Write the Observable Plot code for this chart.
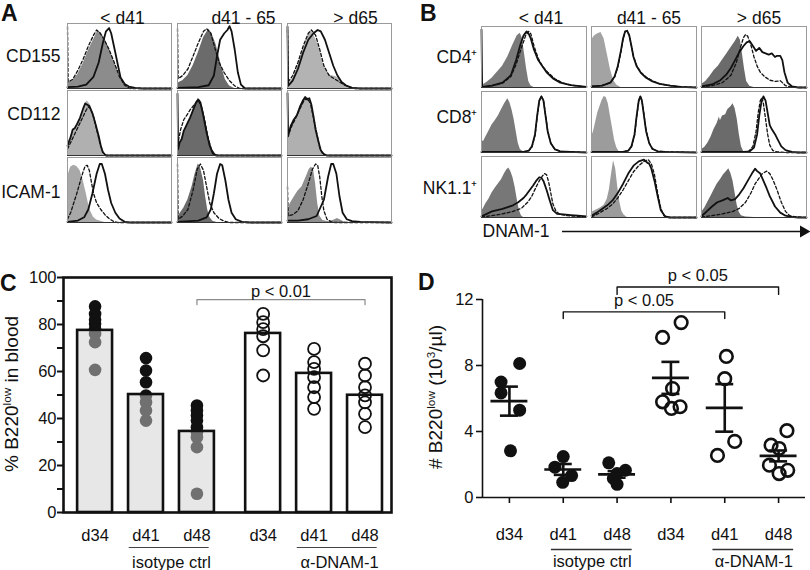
<!DOCTYPE html>
<html><head><meta charset="utf-8">
<script src="https://cdn.jsdelivr.net/npm/d3@7"></script>
<script src="https://cdn.jsdelivr.net/npm/@observablehq/plot@0.6"></script>
<style>
body{margin:0;background:#fff;}
#fig{position:relative;width:810px;height:570px;overflow:hidden;font-family:"Liberation Sans",Arial,Helvetica,sans-serif;color:#111;background:#fff;}
.letter{position:absolute;font-weight:bold;font-size:23px;line-height:1;}
.ylab{position:absolute;white-space:nowrap;font-size:19px;line-height:1;transform:translate(-50%,-50%) rotate(-90deg);}
sup{font-size:0.62em;vertical-align:0.55em;line-height:0;}
</style></head><body><div id="fig"></div>
<script>
// ================= DATA =================
// Panels A/B: flow histograms, x = % of fluorescence axis, y = % of panel height
const colsAB = ["< d41", "d41 - 65", "> d65"];
const rowsA = ["CD155", "CD112", "ICAM-1"];
const rowsB = ["CD4⁺", "CD8⁺", "NK1.1⁺"];

// A row 1 (CD155)
const a11Fill = [[0,8],[5,12],[10,22],[15,38],[20,58],[25,75],[29,88],[32,86],[36,76],[40,62],[44,45],[48,28],[52,12],[56,4],[60,0],[100,0]];
const a11Dash = [[0,95],[0.6,10],[5,14],[10,28],[15,45],[20,65],[25,82],[28,90],[31,86],[35,76],[40,60],[45,40],[50,18],[55,5],[60,0],[100,0]];
const a11Solid = [[0,2],[10,3],[18,6],[25,18],[30,40],[34,70],[37,88],[40,93],[42,85],[46,55],[49,32],[51,17],[55,7],[59,3],[65,1],[72,0],[100,0]];
const a12Fill = [[0,8],[5,12],[10,20],[15,35],[20,55],[25,78],[30,91],[33,85],[37,68],[40,50],[43,30],[46,14],[50,4],[55,0],[100,0]];
const a12Dash = [[0,92],[0.6,15],[5,20],[10,30],[15,50],[20,70],[25,88],[28,92],[32,85],[36,62],[40,40],[45,24],[50,12],[55,4],[60,0],[100,0]];
const a12Solid = [[0,1],[20,2],[30,5],[35,20],[38,50],[41,75],[45,85],[48,90],[50,96],[52,88],[55,60],[58,25],[61,6],[65,0],[100,0]];
const a13Fill = [[0,5],[5,15],[10,35],[15,60],[20,82],[23,88],[26,80],[30,65],[34,40],[38,25],[42,20],[47,18],[52,10],[57,4],[62,1],[70,0],[100,0]];
const a13Dash = [[0,90],[0.6,10],[5,20],[10,40],[15,65],[20,85],[23,90],[27,82],[31,60],[35,35],[40,20],[45,15],[50,10],[55,5],[60,2],[65,0],[100,0]];
const a13Solid = [[0,95],[0.6,4],[5,12],[10,30],[15,55],[20,75],[25,85],[29,90],[32,88],[36,75],[40,55],[44,35],[48,20],[52,10],[56,5],[62,1],[70,0],[100,0]];
// A row 2 (CD112)
const a21Fill = [[0,18],[3,30],[6,40],[9,48],[12,55],[15,70],[17,80],[19,84],[22,78],[25,65],[28,45],[30,30],[32,15],[34,5],[37,1],[40,0],[100,0]];
const a21Dash = [[0,10],[3,20],[6,30],[9,40],[12,50],[15,60],[18,70],[20,75],[22,72],[25,60],[28,40],[31,20],[34,5],[37,0],[100,0]];
const a21Solid = [[0,15],[3,28],[5,40],[7,42],[9,48],[12,58],[15,72],[17,80],[19,78],[21,76],[24,65],[27,48],[30,30],[32,15],[34,5],[37,0],[100,0]];
const a22Fill = [[0,12],[3,22],[6,35],[9,45],[12,55],[15,70],[18,82],[20,88],[22,84],[25,70],[28,45],[31,22],[34,8],[37,2],[40,0],[100,0]];
const a22Dash = [[0,15],[3,40],[6,55],[9,62],[12,70],[15,76],[18,82],[20,85],[23,75],[26,55],[29,30],[32,12],[35,2],[38,0],[100,0]];
const a22Solid = [[0,95],[0.6,10],[2,20],[4,25],[6,38],[9,48],[12,58],[15,70],[18,82],[20,86],[22,82],[25,60],[28,35],[31,15],[34,3],[37,0],[100,0]];
const a23Fill = [[0,30],[3,45],[6,52],[9,62],[12,75],[15,85],[18,90],[20,85],[22,78],[25,60],[27,40],[30,20],[32,8],[35,2],[38,0],[100,0]];
const a23Dash = [[0,28],[4,45],[8,58],[12,72],[16,85],[19,88],[22,80],[25,58],[28,35],[31,12],[34,2],[37,0],[100,0]];
const a23Solid = [[0,96],[0.6,30],[3,45],[6,55],[9,62],[12,75],[15,85],[17,90],[19,86],[21,88],[23,78],[25,60],[27,40],[30,20],[32,8],[35,2],[38,0],[100,0]];
// A row 3 (ICAM-1)
const a31Fill = [[0,70],[3,85],[6,88],[9,86],[12,80],[15,65],[18,45],[20,30],[22,18],[25,8],[28,4],[32,2],[36,0],[100,0]];
const a31Dash = [[0,5],[3,15],[6,30],[9,45],[12,62],[15,78],[17,87],[19,88],[21,80],[23,62],[25,45],[28,30],[32,20],[36,12],[40,6],[44,2],[48,0],[100,0]];
const a31Solid = [[0,1],[10,3],[16,8],[20,20],[24,45],[28,75],[31,90],[33,90],[36,75],[39,50],[42,30],[46,15],[50,6],[55,1],[60,0],[100,0]];
const a32Fill = [[0,8],[3,15],[6,22],[10,35],[14,55],[17,75],[20,90],[22,85],[25,65],[27,40],[29,20],[31,8],[34,2],[38,0],[100,0]];
const a32Dash = [[0,90],[0.6,5],[5,10],[10,20],[15,50],[19,82],[22,90],[25,80],[28,55],[31,30],[35,15],[40,6],[45,2],[50,0],[100,0]];
const a32Solid = [[0,1],[20,3],[28,8],[32,20],[35,45],[38,75],[41,90],[43,88],[46,65],[49,35],[52,15],[56,5],[62,1],[70,0],[100,0]];
const a33Fill = [[0,20],[3,30],[6,38],[10,48],[14,55],[18,70],[21,82],[23,85],[25,82],[27,60],[29,30],[31,10],[34,3],[40,1],[45,4],[48,6],[51,4],[54,1],[58,0],[100,0]];
const a33Dash = [[0,55],[0.6,10],[5,12],[10,18],[15,35],[20,60],[24,82],[27,90],[29,88],[31,70],[33,40],[35,18],[38,5],[42,1],[46,0],[100,0]];
const a33Solid = [[0,3],[10,3],[20,5],[28,10],[35,35],[39,70],[42,90],[44,90],[47,75],[50,40],[53,15],[57,5],[62,2],[70,1],[80,0.5],[100,0]];

// B row 1 (CD4+)
const b11Fill = [[0,3],[5,8],[10,15],[15,25],[20,35],[25,50],[30,70],[34,85],[37,89],[39,80],[41,55],[43,30],[45,10],[47,3],[50,0],[100,0]];
const b11Dash = [[0,1],[10,3],[20,7],[28,18],[33,38],[38,65],[42,85],[45,92],[47,88],[50,68],[54,48],[58,35],[63,25],[70,14],[78,7],[88,3],[100,1]];
const b11Solid = [[0,95],[0.6,1],[10,3],[20,8],[28,20],[33,45],[37,70],[40,85],[43,92],[45,88],[47,80],[50,62],[54,45],[58,35],[62,25],[68,15],[75,8],[85,4],[100,1]];
const b12Fill = [[0,78],[3,85],[6,88],[9,90],[12,80],[15,55],[18,30],[21,12],[24,4],[28,0],[100,0]];
const b12Dash = [[0,2],[10,3],[18,8],[22,17],[25,33],[28,58],[30,79],[32,91],[34,93],[36,86],[38,69],[40,51],[43,36],[47,25],[52,17],[58,11],[65,6],[75,3],[85,1],[100,0]];
const b12Solid = [[0,2],[10,3],[18,8],[22,18],[25,35],[28,60],[30,80],[32,92],[34,93],[36,85],[38,68],[40,50],[43,35],[47,24],[52,16],[58,10],[65,6],[75,3],[85,1],[100,0]];
const b13Fill = [[0,5],[4,10],[8,18],[12,28],[16,35],[20,45],[24,55],[28,65],[32,75],[35,84],[37,78],[39,55],[41,30],[43,10],[46,2],[50,0],[100,0]];
const b13Dash = [[0,1],[10,3],[20,8],[28,20],[33,40],[37,65],[40,82],[42,87],[44,84],[47,70],[50,50],[53,35],[56,25],[60,18],[65,12],[70,10],[75,11],[77,8],[80,3],[85,1],[92,0],[100,0]];
const b13Solid = [[0,2],[10,5],[18,12],[24,22],[28,32],[32,45],[36,58],[40,68],[43,74],[46,76],[49,68],[52,60],[55,65],[58,58],[61,56],[64,54],[67,56],[70,50],[72,52],[75,52],[77,45],[79,25],[82,8],[86,2],[92,0],[100,0]];
// B row 2 (CD8+)
const b21Fill = [[0,20],[2,18],[4,25],[7,35],[10,45],[13,52],[16,60],[19,70],[22,80],[25,88],[27,82],[29,70],[31,55],[33,35],[35,15],[37,5],[40,1],[43,0],[100,0]];
const b21Dash = [[0,1],[40,1],[45,3],[48,9],[51,28],[53,58],[55,84],[57,92],[59,86],[61,62],[63,36],[66,15],[70,5],[75,2],[85,1],[100,0]];
const b21Solid = [[0,1],[40,1],[45,3],[48,10],[51,30],[53,60],[55,85],[57,92],[59,85],[61,60],[63,35],[66,15],[70,5],[75,2],[85,1],[100,0]];
const b22Fill = [[0,25],[2,35],[4,50],[6,65],[8,75],[10,85],[12,92],[14,90],[16,80],[18,60],[20,40],[22,20],[24,8],[26,2],[29,0],[100,0]];
const b22Dash = [[0,1],[30,1],[35,3],[38,9],[41,28],[43,58],[45,84],[46.5,92],[48,86],[50,62],[52,36],[55,16],[58,6],[63,2],[70,1],[100,0]];
const b22Solid = [[0,1],[30,1],[35,3],[38,10],[41,30],[43,60],[45,85],[46.5,92],[48,85],[50,60],[52,35],[55,15],[58,6],[63,2],[70,1],[100,0]];
const b23Fill = [[0,5],[3,8],[6,15],[9,25],[12,38],[15,48],[17,58],[18,52],[20,60],[23,62],[25,70],[28,75],[30,80],[32,72],[34,55],[36,30],[38,10],[40,2],[43,0],[100,0]];
const b23Dash = [[0,1],[40,1],[45,2],[49,10],[52,35],[54,65],[56,85],[57.5,90],[59,80],[61,55],[63,30],[65,12],[68,3],[72,1],[80,0],[100,0]];
const b23Solid = [[0,1],[40,1],[46,2],[50,8],[53,30],[55,60],[57,82],[59,92],[61,85],[63,65],[65,45],[67,38],[70,30],[73,20],[76,10],[80,4],[86,1],[92,0],[100,0]];
// B row 3 (NK1.1+)
const b31Fill = [[0,10],[2,15],[4,22],[7,30],[10,40],[13,48],[16,55],[19,62],[22,72],[24,78],[26,81],[28,75],[30,65],[32,50],[34,30],[36,12],[38,3],[40,0],[100,0]];
const b31Dash = [[0,1],[10,3],[20,6],[30,10],[38,15],[44,25],[48,35],[52,50],[55,60],[58,68],[60,72],[62,70],[64,58],[66,40],[68,22],[71,10],[75,5],[82,3],[90,2],[100,1]];
const b31Solid = [[0,2],[5,6],[10,10],[15,12],[20,14],[25,17],[30,20],[35,25],[40,32],[43,38],[46,45],[49,52],[52,60],[55,66],[57,65],[59,60],[62,45],[65,28],[68,12],[72,6],[78,5],[85,4],[92,3],[100,2]];
const b32Fill = [[0,8],[4,12],[8,15],[12,20],[15,30],[17,45],[19,70],[21,93],[23,80],[25,50],[27,25],[29,10],[31,4],[34,0],[100,0]];
const b32Dash = [[0,1],[5,5],[10,10],[15,15],[20,22],[25,32],[30,45],[35,60],[40,75],[45,85],[50,92],[54,95],[57,88],[60,70],[63,40],[66,15],[69,3],[73,0],[100,0]];
const b32Solid = [[0,3],[5,8],[10,14],[15,20],[20,28],[25,40],[30,55],[35,72],[40,85],[45,92],[50,95],[53,90],[55,88],[57,80],[60,60],[63,35],[66,12],[70,2],[75,0],[100,0]];
const b33Fill = [[0,8],[3,15],[6,25],[9,35],[12,45],[15,55],[18,62],[21,70],[24,76],[26,80],[28,72],[30,60],[32,40],[34,20],[36,8],[38,3],[42,1],[50,0],[100,0]];
const b33Dash = [[0,1],[10,3],[20,6],[30,10],[36,15],[42,25],[47,40],[51,55],[55,65],[58,72],[62,76],[65,72],[68,62],[72,45],[76,25],[80,10],[84,3],[90,1],[100,0]];
const b33Solid = [[0,2],[5,10],[10,18],[15,25],[20,28],[25,32],[28,28],[32,30],[36,38],[40,48],[44,60],[48,72],[51,80],[53,76],[56,72],[59,60],[62,48],[65,35],[70,18],[75,8],[80,3],[86,1],[92,0],[100,0]];

// Panel C: % B220low in blood
const cGroups = ["isotype ctrl", "α-DNAM-1"];
const cDays = ["d34", "d41", "d48"];
const cMeans = [[77.5, 50.2, 34.5], [76.2, 59.2, 49.9]];
const cDots = [
  [[87.7, 84.5, 82, 80.3, 78.2, 76, 72.5, 60.7], [65.7, 60.4, 55.4, 49.8, 46.9, 43.4, 39.1], [45.5, 43.4, 41.3, 39.1, 36.3, 34.2, 32.0, 27.8, 8.0]],
  [[84.5, 81, 78, 75, 69, 58.3], [69.6, 64, 61.1, 57.6, 53.3, 49.1, 44.1], [63.3, 58.3, 53.3, 49.8, 46.9, 42, 36.3]]
];
const cTicks = [0, 20, 40, 60, 80, 100];
const cMinorTicks = [10, 30, 50, 70, 90];
const cCompare = [{from: [0, 2], to: [1, 2], label: "p < 0.01"}];

// Panel D: # B220low (10^3/µl)
const dGroups = ["isotype ctrl", "α-DNAM-1"];
const dDays = ["d34", "d41", "d48"];
const dValues = [
  [[8.12, 7.0, 6.34, 5.29, 2.83], [2.48, 1.84, 1.33, 0.92], [2.1, 1.65, 1.45, 1.15, 0.8]],
  [[10.6, 9.7, 6.6, 5.8, 5.5, 5.4], [8.55, 7.2, 3.4, 2.55], [4.05, 3.17, 2.97, 1.96, 1.65, 1.45]]
];
const dMeans = [[5.84, 1.7, 1.4], [7.25, 5.43, 2.52]];
const dSem = [[0.88, 0.33, 0.2], [0.97, 1.44, 0.33]];
const dTicks = [0, 4, 8, 12];
const dCompare = [{from: [0, 1], to: [1, 1], label: "p < 0.05"}, {from: [0, 2], to: [1, 2], label: "p < 0.05"}];

// ================= LAYOUT / STYLE =================
const FONT = '"Liberation Sans", Arial, Helvetica, sans-serif';
const toneA = [["#8c8c8c", "#6b6b6b", "#b3b3b3"], ["#b0b0b0", "#6b6b6b", "#b0b0b0"], ["#a8a8a8", "#6b6b6b", "#8e8e8e"]];
const toneB = [["#7a7a7a", "#a3a3a3", "#6b6b6b"], ["#7a7a7a", "#9c9c9c", "#6b6b6b"], ["#777777", "#9c9c9c", "#6b6b6b"]];
const dJitter = [
  [[0.19, -0.155, -0.155, 0.19, 0.02], [0, -0.155, 0.155, -0.01], [-0.155, 0.155, 0, -0.07, 0]],
  [[0.19, -0.155, 0.03, -0.155, 0.17, 0.01], [0.03, 0, 0.185, -0.135], [0.155, -0.14, 0.01, -0.17, 0.17, 0.01]]
];

const fig = document.getElementById("fig");
function put(node, left, top) {
  node.style.position = "absolute";
  node.style.left = left + "px";
  node.style.top = top + "px";
  fig.appendChild(node);
  return node;
}
function html(cls, inner, left, top) {
  const d = document.createElement("div");
  d.className = cls;
  d.innerHTML = inner;
  return put(d, left, top);
}

function histRows(rows, grid, tones) {
  const out = [];
  rows.forEach((r, i) => colsAB.forEach((c, j) => grid[i][j].forEach(([x, y]) => out.push({row: r, col: c, x, y, tone: tones ? tones[i][j] : null}))));
  return out;
}

function histPlot(o) {
  const fillRows = histRows(o.rows, o.fill, o.tone);
  const dashRows = histRows(o.rows, o.dash);
  const solidRows = histRows(o.rows, o.solid);
  const headers = colsAB.map((c, j) => Plot.text([c], {fx: d => d, fy: () => o.rows[0], frameAnchor: "top", dy: o.headDy, dx: o.headDx[j], text: d => d}));
  const rowLabels = o.rows.map((r, i) => Plot.text([r], {fx: () => colsAB[0], fy: d => d, frameAnchor: "left", textAnchor: "end", dx: -o.rowPad, dy: o.rowDy[i], text: d => d}));
  return Plot.plot({
    width: o.width, height: o.height,
    marginTop: o.mt, marginBottom: o.mb, marginLeft: o.ml, marginRight: o.mr,
    style: {fontFamily: FONT, fontSize: "17.5px", color: "#111", background: "transparent", overflow: "visible"},
    x: {domain: [0, 100], axis: null},
    y: {domain: [0, 100], axis: null},
    color: {type: "identity"},
    fx: {domain: colsAB, axis: null, label: null, paddingInner: o.padX, paddingOuter: 0},
    fy: {domain: o.rows, axis: null, label: null, paddingInner: o.padY, paddingOuter: 0},
    marks: [
      Plot.areaY(fillRows, {x: "x", y: "y", fx: "col", fy: "row", fill: "tone"}),
      Plot.line(dashRows, {x: "x", y: "y", fx: "col", fy: "row", stroke: "#111", strokeWidth: 1.3, strokeDasharray: "3,2.2"}),
      Plot.line(solidRows, {x: "x", y: "y", fx: "col", fy: "row", stroke: "#111", strokeWidth: 1.8}),
      Plot.frame({stroke: "#9a9a9a", strokeWidth: 1}),
      Plot.ruleY([0], {stroke: "#333", strokeWidth: 1}),
      ...headers,
      ...rowLabels
    ]
  });
}

// ---------- A ----------
put(histPlot({
  rows: rowsA,
  fill: [[a11Fill, a12Fill, a13Fill], [a21Fill, a22Fill, a23Fill], [a31Fill, a32Fill, a33Fill]],
  dash: [[a11Dash, a12Dash, a13Dash], [a21Dash, a22Dash, a23Dash], [a31Dash, a32Dash, a33Dash]],
  solid: [[a11Solid, a12Solid, a13Solid], [a21Solid, a22Solid, a23Solid], [a31Solid, a32Solid, a33Solid]],
  tone: toneA,
  width: 395, height: 228, mt: 22, mb: 5, ml: 66, mr: 4, padX: 0.059, padY: 0.037, rowPad: 7,
  headDy: -12, headDx: [3, 14, 16], rowDy: [0, -9, 2]
}), 0, 0);

// ---------- B ----------
put(histPlot({
  rows: rowsB,
  fill: [[b11Fill, b12Fill, b13Fill], [b21Fill, b22Fill, b23Fill], [b31Fill, b32Fill, b33Fill]],
  dash: [[b11Dash, b12Dash, b13Dash], [b21Dash, b22Dash, b23Dash], [b31Dash, b32Dash, b33Dash]],
  solid: [[b11Solid, b12Solid, b13Solid], [b21Solid, b22Solid, b23Solid], [b31Solid, b32Solid, b33Solid]],
  tone: toneB,
  width: 410, height: 222, mt: 25, mb: 4, ml: 80, mr: 3, padX: 0.045, padY: 0.065, rowPad: 4,
  headDy: -15, headDx: [7, 5, 5], rowDy: [0, -5, 1]
}), 400, 0);

// DNAM-1 axis arrow
put(Plot.plot({
  width: 336, height: 24, marginTop: 0, marginBottom: 0, marginLeft: 88, marginRight: 3,
  style: {fontFamily: FONT, fontSize: "17.5px", color: "#111", background: "transparent", overflow: "visible"},
  x: {domain: [0, 1], axis: null},
  y: {domain: [0, 1], axis: null},
  marks: [
    Plot.ruleY([0.5], {stroke: "#111", strokeWidth: 1.3, insetRight: 4}),
    Plot.dot([1], {x: d => d, y: () => 0.5, symbol: "triangle", rotate: 90, r: 4.5, fill: "#111", dx: -4}),
    Plot.text(["DNAM-1"], {frameAnchor: "left", dx: -80, textAnchor: "start", text: d => d})
  ]
}), 474, 219);

// ---------- C ----------
const C_GROUP_STEP = 3.3, C_BAR_HALF = 0.343;
const cPos = (g, d) => g * C_GROUP_STEP + d;
const cBars = cGroups.flatMap((g, gi) => cDays.map((day, di) => ({g: gi, day, pos: cPos(gi, di), mean: cMeans[gi][di]})));
const cPts = cGroups.flatMap((g, gi) => cDays.flatMap((day, di) => cDots[gi][di].map(v => ({g: gi, pos: cPos(gi, di), v}))));
const cDayAt = new Map(cBars.map(b => [b.pos, b.day]));
const cGroupLine = cGroups.map((name, gi) => ({name, x1: cPos(gi, 1) - 0.33, x2: cPos(gi, 2) + 0.24, mid: (cPos(gi, 1) + cPos(gi, 2)) / 2}));
const C_BR = {level: 90.6, drop: 2.2, text: 93.8};
const cBracket = cCompare.flatMap((c, i) => {
  const a = cPos(...c.from), b = cPos(...c.to);
  return [{i, x: a, y: C_BR.level - C_BR.drop}, {i, x: a, y: C_BR.level}, {i, x: b, y: C_BR.level}, {i, x: b, y: C_BR.level - C_BR.drop}];
});
const barX = {x1: b => b.pos - C_BAR_HALF, x2: b => b.pos + C_BAR_HALF, y1: () => 0, y2: "mean"};

put(Plot.plot({
  width: 400, height: 308, marginTop: 15, marginBottom: 58, marginLeft: 63, marginRight: 9,
  style: {fontFamily: FONT, fontSize: "16.5px", color: "#111", background: "transparent", overflow: "visible"},
  x: {type: "linear", domain: [-0.62, 5.82], label: null},
  y: {domain: [0, 100], label: null},
  marks: [
    Plot.rect(cBars.filter(b => b.g === 1), {...barX, fill: "white"}),
    Plot.dot(cPts.filter(p => p.g === 0), {x: "pos", y: "v", r: 6.3, fill: "#111"}),
    Plot.dot(cPts.filter(p => p.g === 1), {x: "pos", y: "v", r: 6, fill: "none", stroke: "#111", strokeWidth: 1.8}),
    Plot.rect(cBars.filter(b => b.g === 0), {...barX, fill: "#cfcfcf", fillOpacity: 0.5}),
    Plot.rect(cBars, {...barX, fill: "none", stroke: "#111", strokeWidth: 2.6}),
    Plot.frame({stroke: "#111", strokeWidth: 2.6}),
    Plot.axisY({ticks: cTicks, tickSize: 6, tickPadding: 1, label: null, strokeWidth: 2}),
    Plot.axisY({ticks: cMinorTicks, tickSize: 6, tickFormat: () => "", label: null, strokeWidth: 2}),
    Plot.axisX({ticks: cBars.map(b => b.pos), tickFormat: p => cDayAt.get(p), tickSize: 0, tickPadding: 17, label: null}),
    Plot.ruleY(cGroupLine, {x1: "x1", x2: "x2", y: () => 0, dy: 35, stroke: "#444", strokeWidth: 1.2}),
    Plot.text(cGroupLine, {x: "mid", y: () => 0, dy: 50, text: "name"}),
    Plot.line(cBracket, {x: "x", y: "y", z: "i", stroke: "#8a8a8a", strokeWidth: 1.2}),
    Plot.text(cCompare, {x: c => (cPos(...c.from) + cPos(...c.to)) / 2, y: () => C_BR.text, text: "label"})
  ]
}), 0, 262);

// ---------- D ----------
const D_DOMAIN = [-0.5, 5.5];
const dPos = (g, d) => g * 3 + d;
const dStats = dGroups.flatMap((g, gi) => dDays.map((day, di) => ({g: gi, day, pos: dPos(gi, di), mean: dMeans[gi][di], sem: dSem[gi][di]})));
const dPts = dGroups.flatMap((g, gi) => dDays.flatMap((day, di) => dValues[gi][di].map((v, k) => ({g: gi, x: dPos(gi, di) + dJitter[gi][di][k], v}))));
const dDayAt = new Map(dStats.map(s => [s.pos, s.day]));
const dGroupLine = dGroups.map((name, gi) => ({name, x1: dPos(gi, 1) - 0.22, x2: dPos(gi, 2) + 0.28, mid: (dPos(gi, 1) + dPos(gi, 2)) / 2 + 0.04}));
const D_BR = [{level: 11.25, drop: 0.4, text: 11.9}, {level: 12.76, drop: 0.45, text: 13.45}];
const dBracket = dCompare.flatMap((c, i) => {
  const a = dPos(...c.from), b = dPos(...c.to), L = D_BR[i];
  return [{i, x: a, y: L.level - L.drop}, {i, x: a, y: L.level}, {i, x: b, y: L.level}, {i, x: b, y: L.level - L.drop}];
});
const MEAN_HALF = 0.343, CAP_HALF = 0.167;

put(Plot.plot({
  width: 410, height: 308, marginTop: 37, marginBottom: 73, marginLeft: 82, marginRight: 5,
  style: {fontFamily: FONT, fontSize: "16.5px", color: "#111", background: "transparent", overflow: "visible"},
  x: {type: "linear", domain: D_DOMAIN, label: null},
  y: {domain: [0, 12], label: null},
  marks: [
    Plot.ruleY([0], {stroke: "#111", strokeWidth: 1.6}),
    Plot.ruleX([D_DOMAIN[0]], {y1: () => 0, y2: () => 12, stroke: "#111", strokeWidth: 1.6}),
    Plot.axisY({ticks: dTicks, tickSize: 6, tickPadding: 3, label: null, strokeWidth: 1.6}),
    Plot.axisX({ticks: dStats.map(s => s.pos), tickFormat: p => dDayAt.get(p), tickSize: 6, tickPadding: 25, label: null, strokeWidth: 1.6}),
    Plot.dot(dPts.filter(p => p.g === 0), {x: "x", y: "v", r: 6.5, fill: "#111"}),
    Plot.dot(dPts.filter(p => p.g === 1), {x: "x", y: "v", r: 6.3, fill: "none", stroke: "#111", strokeWidth: 2.6}),
    Plot.ruleY(dStats, {x1: s => s.pos - MEAN_HALF, x2: s => s.pos + MEAN_HALF, y: "mean", stroke: "#111", strokeWidth: 2.6}),
    Plot.ruleX(dStats, {x: "pos", y1: s => s.mean - s.sem, y2: s => s.mean + s.sem, stroke: "#111", strokeWidth: 2.6}),
    Plot.ruleY(dStats, {x1: s => s.pos - CAP_HALF, x2: s => s.pos + CAP_HALF, y: s => s.mean + s.sem, stroke: "#111", strokeWidth: 2.6}),
    Plot.ruleY(dStats, {x1: s => s.pos - CAP_HALF, x2: s => s.pos + CAP_HALF, y: s => s.mean - s.sem, stroke: "#111", strokeWidth: 2.6}),
    Plot.line(dBracket, {x: "x", y: "y", z: "i", stroke: "#111", strokeWidth: 1.4}),
    Plot.text(dCompare, {x: (c) => (dPos(...c.from) + dPos(...c.to)) / 2, y: (c, i) => D_BR[i].text, text: "label"}),
    Plot.ruleY(dGroupLine, {x1: "x1", x2: "x2", y: () => 0, dy: 52, stroke: "#333", strokeWidth: 1.3}),
    Plot.text(dGroupLine, {x: "mid", y: () => 0, dy: 64, text: "name"})
  ]
}), 400, 262);

// ---------- labels ----------
html("letter", "A", 1, 2);
html("letter", "B", 420, 2);
html("letter", "C", 0, 272);
html("letter", "D", 418, 271);
html("ylab", "% B220<sup>low</sup> in blood", 11, 394);
html("ylab", "# B220<sup>low</sup> (10<sup>3</sup>/µl)", 435, 397);
</script></body></html>
